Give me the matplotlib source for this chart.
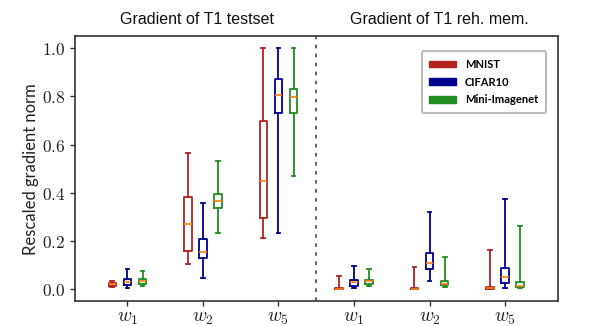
import matplotlib
matplotlib.use("Agg")
import matplotlib.pyplot as plt
from matplotlib.patches import Patch

plt.rcParams['mathtext.fontset'] = 'cm'

datasets = ["MNIST", "CIFAR10", "Mini-Imagenet"]
colors = ["#b22222", "#00008b", "#228b22"]
groups = ["$w_1$", "$w_2$", "$w_5$", "$w_1$", "$w_2$", "$w_5$"]
panel_titles = ["Gradient of T1 testset", "Gradient of T1 reh. mem."]
ytick_vals = [0.0, 0.2, 0.4, 0.6, 0.8, 1.0]

# Each box: (whislo, q1, med, q3, whishi), one list per dataset, one entry per group
mnist = [
    (0.008, 0.015, 0.022, 0.028, 0.035),
    (0.106, 0.161, 0.271, 0.381, 0.565),
    (0.215, 0.295, 0.449, 0.697, 1.000),
    (0.000, 0.001, 0.003, 0.005, 0.057),
    (0.000, 0.001, 0.003, 0.006, 0.092),
    (0.000, 0.002, 0.005, 0.009, 0.163),
]
cifar = [
    (0.007, 0.017, 0.030, 0.044, 0.085),
    (0.048, 0.130, 0.157, 0.207, 0.357),
    (0.233, 0.731, 0.804, 0.873, 1.000),
    (0.007, 0.015, 0.032, 0.041, 0.095),
    (0.033, 0.085, 0.110, 0.149, 0.320),
    (0.005, 0.028, 0.051, 0.088, 0.373),
]
mini = [
    (0.014, 0.024, 0.033, 0.044, 0.077),
    (0.233, 0.338, 0.365, 0.397, 0.530),
    (0.468, 0.729, 0.797, 0.832, 1.000),
    (0.015, 0.022, 0.033, 0.041, 0.083),
    (0.012, 0.017, 0.022, 0.036, 0.134),
    (0.004, 0.008, 0.014, 0.032, 0.262),
]
series = [mnist, cifar, mini]

fig = plt.figure(figsize=(5.98, 3.26), dpi=100)
ax = fig.add_axes([0.1246, 0.0752, 0.9331 - 0.1246, 0.8896 - 0.0752])

offsets = [-0.2, 0.0, 0.2]
for s_idx, (data, col, off) in enumerate(zip(series, colors, offsets)):
    stats = []
    for g, (lo, q1, med, q3, hi) in enumerate(data):
        stats.append(dict(whislo=lo, q1=q1, med=med, q3=q3, whishi=hi, fliers=[]))
    pos = [g + off for g in range(len(data))]
    ax.bxp(stats, positions=pos, widths=0.1, showfliers=False, manage_ticks=False,
           boxprops=dict(color=col, linewidth=1.3),
           whiskerprops=dict(color=col, linewidth=1.3),
           capprops=dict(color=col, linewidth=1.3),
           medianprops=dict(color="#ff7f0e", linewidth=1.2))

ax.axvline(2.5, color="#555555", linestyle=(0, (2, 3)), linewidth=1.3)
ax.set_xlim(-0.7, 5.7)
ax.set_ylim(-0.05, 1.05)
ax.set_xticks(range(len(groups)))
ax.set_xticklabels(groups, fontsize=14)
ax.set_yticks(ytick_vals)
ax.set_yticklabels([f"${v:.1f}$" for v in ytick_vals], fontsize=12.5)
for sp in ax.spines.values():
    sp.set_color("#333333")
    sp.set_linewidth(1.2)
ax.tick_params(colors="#333333", length=3.5, width=1.0)
ax.tick_params(axis="x", pad=1)
ax.tick_params(axis="y", pad=3)
for lab in ax.get_xticklabels() + ax.get_yticklabels():
    lab.set_color("#222222")

ax.set_ylabel("Rescaled gradient norm", fontsize=12, family="Lato", color="#222222", labelpad=2)

fig.text(197 / 598, 1 - 20 / 326, panel_titles[0], ha="center", va="center",
         fontsize=11.5, family="Liberation Sans", color="#111111")
fig.text(439 / 598, 1 - 20 / 326, panel_titles[1], ha="center", va="center",
         fontsize=11.5, family="Liberation Sans", color="#111111")

handles = [Patch(facecolor=c, edgecolor=c) for c in colors]
leg = ax.legend(handles, datasets, loc="upper right", bbox_to_anchor=(0.982, 0.955),
                prop=dict(family="Lato", weight="bold", size=8),
                handlelength=2.4, handleheight=0.55, labelspacing=0.6,
                frameon=True, fancybox=True, borderpad=0.7, handletextpad=0.8,
                borderaxespad=0.3)
leg.get_frame().set_edgecolor("#aaaaaa")
leg.get_frame().set_linewidth(1.5)

fig.savefig("out.png", dpi=100)
